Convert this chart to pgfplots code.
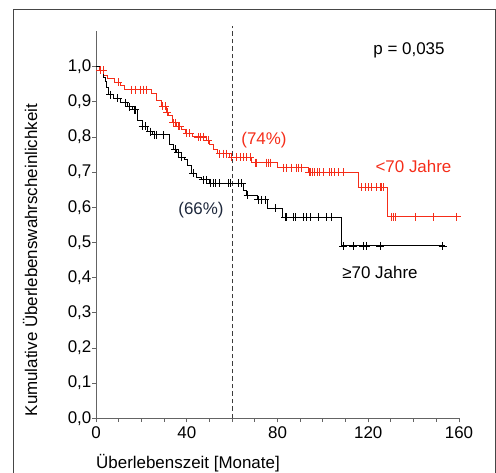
\documentclass[border=0pt]{standalone}
\usepackage{pgfplots}
\pgfplotsset{compat=1.18}
\usepackage{fontspec}
\setmainfont{Liberation Sans}
\definecolor{kmred}{RGB}{245,45,25}
\definecolor{axgray}{RGB}{100,100,100}
\definecolor{framegray}{RGB}{70,70,70}
\definecolor{dashgray}{RGB}{60,60,60}
\definecolor{navy}{RGB}{30,40,60}
\begin{document}
\begin{tikzpicture}[x=1bp,y=1bp]
\useasboundingbox (-96,-54.7) rectangle (400,418.3);
\draw[framegray, line width=1bp] (-82,-80) -- (-82,408.3) -- (399.5,408.3) -- (399.5,-80);
\begin{axis}[
  at={(0,0)}, anchor=origin,
  scale only axis, width=363bp, height=386.8bp,
  xmin=0, xmax=160, ymin=0, ymax=1.1,
  axis x line*=bottom, axis y line*=left,
  axis line style={-, axgray, line width=1bp},
  every tick/.style={axgray, line width=0.9bp},
  tick align=outside,
  major tick length=4bp, minor tick length=3.5bp,
  xtick={0,40,80,120,160},
  minor xtick={10,20,30,50,60,70,90,100,110,130,140,150},
  ytick={0,0.1,0.2,0.3,0.4,0.5,0.6,0.7,0.8,0.9,1.0},
  yticklabels={0{,}0,0{,}1,0{,}2,0{,}3,0{,}4,0{,}5,0{,}6,0{,}7,0{,}8,0{,}9,1{,}0},
  xticklabels={0,40,80,120,160},
  /pgf/number format/assume math mode=true,
  tick label style={font=\fontsize{17}{20}\selectfont},
  yticklabel style={inner sep=0.5bp},
  xticklabel style={inner sep=4.5bp},
  clip=false,
]
% dashed reference line at 60 months
\addplot[dashgray, line width=1.2bp, dash pattern=on 4.5bp off 3bp] coordinates {(60,0) (60,1.115)};
% <70 Jahre
\addplot[kmred, line width=1bp, const plot] coordinates {
(0,1.0)(1.5,0.99)(3.5,0.975)(5,0.965)(8,0.955)(11,0.945)(12.5,0.935)(24.5,0.925)(26.5,0.905)(29,0.888)(31,0.87)(32,0.86)(33.5,0.84)(35.5,0.83)(37.5,0.822)(39.5,0.81)(42.5,0.80)(48.5,0.79)(50,0.78)(52,0.765)(53.5,0.752)(59,0.743)(68.5,0.727)(80,0.713)(93.5,0.699)(115.5,0.657)(128.4,0.573)(159,0.573)};
\addplot[kmred, only marks, mark=+, mark size=4bp, mark options={line width=0.9bp}] coordinates {
(1.8,0.99)(3.1,0.99)(9.8,0.955)(15.7,0.935)(17.2,0.935)(19.4,0.935)(20.8,0.935)(22.3,0.935)(29.5,0.888)(30.4,0.888)(31.4,0.87)(34,0.84)(35,0.84)(36.2,0.83)(37,0.83)(40,0.81)(41.4,0.81)(45,0.80)(46,0.80)(47.3,0.80)(49.5,0.79)(54.6,0.752)(56,0.752)(57.6,0.752)(59.8,0.743)(62,0.743)(63.5,0.743)(64.9,0.743)(66.4,0.743)(67.9,0.743)(70.1,0.727)(70.8,0.727)(75.2,0.727)(76,0.727)(76.7,0.727)(82.6,0.713)(84,0.713)(86.2,0.713)(88.4,0.713)(89.2,0.713)(90.7,0.713)(94,0.699)(94.6,0.699)(95.5,0.699)(96.5,0.699)(97.5,0.699)(98.7,0.699)(100.2,0.699)(103.1,0.699)(103.9,0.699)(105.3,0.699)(106.8,0.699)(109,0.699)(117.1,0.657)(118.6,0.657)(120,0.657)(121.5,0.657)(123.7,0.657)(125.2,0.657)(125.9,0.657)(126.6,0.657)(130.3,0.573)(131,0.573)(131.8,0.573)(140.6,0.573)(148.7,0.573)(159,0.573)};
% >=70 Jahre
\addplot[black, line width=1bp, const plot] coordinates {
(0,1.0)(1.8,0.99)(3.1,0.97)(4,0.957)(4.8,0.94)(5.5,0.92)(7.5,0.91)(10.6,0.897)(14.1,0.886)(16.3,0.877)(18.5,0.848)(20.3,0.83)(22.5,0.815)(25.1,0.806)(32.6,0.78)(34,0.765)(35.7,0.755)(37.9,0.743)(39,0.735)(40.5,0.72)(42.3,0.697)(44.5,0.686)(46.7,0.678)(50.2,0.668)(64.8,0.649)(66.5,0.635)(71,0.621)(75.8,0.597)(82.4,0.572)(108.3,0.49)(153.8,0.49)};
\addplot[black, only marks, mark=+, mark size=4bp, mark options={line width=0.9bp}] coordinates {
(6.2,0.92)(9.5,0.91)(12.8,0.897)(14.8,0.886)(16.8,0.877)(17.4,0.877)(20.6,0.83)(21.6,0.83)(23.8,0.815)(25.6,0.806)(26.7,0.806)(29.7,0.806)(34.8,0.765)(36.3,0.755)(37.8,0.743)(42.9,0.697)(47.3,0.678)(48.8,0.678)(50.5,0.668)(51.7,0.668)(52.8,0.668)(54.6,0.668)(58.3,0.668)(59.4,0.668)(62.7,0.668)(64.2,0.668)(66.8,0.635)(71.5,0.621)(73,0.621)(74.5,0.621)(78.9,0.597)(83.3,0.572)(84,0.572)(87,0.572)(87.7,0.572)(91.4,0.572)(92.8,0.572)(94.3,0.572)(98,0.572)(101.7,0.572)(103.9,0.572)(109,0.49)(113.4,0.49)(117.8,0.49)(119,0.49)(125.2,0.49)(152.8,0.49)};
\end{axis}
\begin{scope}[every node/.style={font=\fontsize{17}{20}\selectfont, inner sep=0pt}]
\node at (313,368.3) {p = 0,035};
\node[text=kmred] at (168,278.3) {(74\%)};
\node[text=kmred] at (317.5,251.6) {<70 Jahre};
\node[text=navy] at (105,208.3) {(66\%)};
\node at (284,145.6) {≥70 Jahre};
\node[rotate=90] at (-66,158.3) {Kumulative Überlebenswahrscheinlichkeit};
\node[anchor=west] at (0,-44.4) {Überlebenszeit [Monate]};
\end{scope}
\end{tikzpicture}
\end{document}
